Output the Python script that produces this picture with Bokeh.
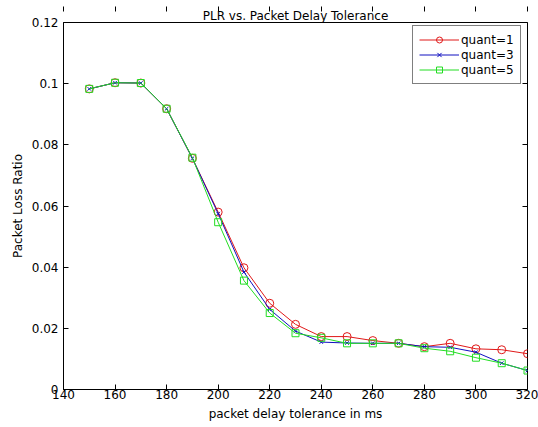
from bokeh.plotting import figure
from bokeh.models import Range1d, LinearAxis, FixedTicker, Legend, LegendItem, Title
from bokeh.embed import file_html
from bokeh.resources import INLINE

# Data
delay = [150, 160, 170, 180, 190, 200, 210, 220, 230, 240, 250, 260, 270, 280, 290, 300, 310, 320]
quant1 = [0.0983, 0.1003, 0.1002, 0.0918, 0.0756, 0.0580, 0.0398, 0.0282, 0.0213, 0.0173,
          0.0173, 0.0160, 0.0151, 0.0140, 0.0151, 0.0133, 0.0130, 0.0117]
quant3 = [0.0983, 0.1003, 0.1002, 0.0918, 0.0756, 0.0575, 0.0384, 0.0262, 0.0191, 0.0155,
          0.0152, 0.0151, 0.0151, 0.0140, 0.0138, 0.0122, 0.0086, 0.0062]
quant5 = [0.0983, 0.1003, 0.1002, 0.0918, 0.0758, 0.0547, 0.0356, 0.0250, 0.0184, 0.0169,
          0.0151, 0.0151, 0.0151, 0.0135, 0.0125, 0.0104, 0.0086, 0.0062]
x_ticks = [140, 160, 180, 200, 220, 240, 260, 280, 300, 320]
y_ticks = [0, 0.02, 0.04, 0.06, 0.08, 0.1, 0.12]
y_tick_labels = ["0", "0.02", "0.04", "0.06", "0.08", "0.1", "0.12"]

FONT = "DejaVu Sans"
FS = "12px"

p = figure(width=538, height=427, output_backend="svg", toolbar_location=None,
           x_range=Range1d(140, 320), y_range=Range1d(0, 0.12),
           min_border_left=63, min_border_right=11, min_border_top=22, min_border_bottom=38)
p.title = None
p.add_layout(Title(text="PLR vs. Packet Delay Tolerance", align="center",
                   text_font=FONT, text_font_size=FS, text_font_style="normal",
                   text_color="black", standoff=0, offset=0), "above")

p.grid.visible = False
p.outline_line_color = "black"
p.outline_line_width = 1
p.background_fill_color = "white"
p.border_fill_color = "white"

for ax in p.xaxis + p.yaxis:
    ax.major_tick_in = 5
    ax.major_tick_out = 0
    ax.minor_tick_line_color = None
    ax.axis_line_color = "black"
    ax.major_tick_line_color = "black"
    ax.major_label_text_font = FONT
    ax.major_label_text_font_size = FS
    ax.major_label_text_color = "black"
    ax.axis_label_text_font = FONT
    ax.axis_label_text_font_size = FS
    ax.axis_label_text_font_style = "normal"
    ax.axis_label_text_color = "black"

p.xaxis.major_label_standoff = 0
p.xaxis.axis_label_standoff = 5
p.yaxis.major_label_standoff = 5
p.yaxis.axis_label_standoff = 4

p.xaxis.ticker = FixedTicker(ticks=x_ticks)
p.yaxis.ticker = FixedTicker(ticks=y_ticks)
p.yaxis.major_label_overrides = {t: s for t, s in zip(y_ticks, y_tick_labels)}
p.xaxis.axis_label = "packet delay tolerance in ms"
p.yaxis.axis_label = "Packet Loss Ratio"

top = LinearAxis(ticker=FixedTicker(ticks=x_ticks), major_tick_in=5, major_tick_out=0,
                 minor_tick_line_color=None, axis_line_color=None,
                 major_label_text_color=None, major_label_text_font_size="1px",
                 major_label_standoff=0)
right = LinearAxis(ticker=FixedTicker(ticks=y_ticks), major_tick_in=5, major_tick_out=0,
                   minor_tick_line_color=None, axis_line_color=None,
                   major_label_text_color=None, major_label_text_font_size="1px",
                   major_label_standoff=0)
p.add_layout(top, "above")
p.add_layout(right, "right")

RED, BLUE, GREEN = "#e01818", "#1010c0", "#22dd22"
r1l = p.line(delay, quant1, line_color=RED, line_width=1)
r1m = p.scatter(delay, quant1, marker="circle", size=8, line_color=RED,
                fill_color=None, line_width=1)
r3l = p.line(delay, quant3, line_color=BLUE, line_width=1)
r3m = p.scatter(delay, quant3, marker="x", size=5, line_color=BLUE, line_width=1)
r5l = p.line(delay, quant5, line_color=GREEN, line_width=1)
r5m = p.scatter(delay, quant5, marker="square", size=7, line_color=GREEN,
                fill_color=None, line_width=1)

legend = Legend(items=[
    LegendItem(label="quant=1", renderers=[r1l, r1m]),
    LegendItem(label="quant=3", renderers=[r3l, r3m]),
    LegendItem(label="quant=5", renderers=[r5l, r5m]),
], location=(349, 305))
legend.label_text_font = FONT
legend.label_text_font_size = FS
legend.label_text_color = "black"
legend.border_line_color = "black"
legend.border_line_width = 1
legend.background_fill_color = "white"
legend.background_fill_alpha = 1
legend.glyph_width = 40
legend.glyph_height = 15
legend.label_height = 15
legend.label_standoff = 2
legend.spacing = 0
legend.padding = 6
legend.margin = 0
p.add_layout(legend)

open("out.html", "w").write(file_html(p, INLINE))
